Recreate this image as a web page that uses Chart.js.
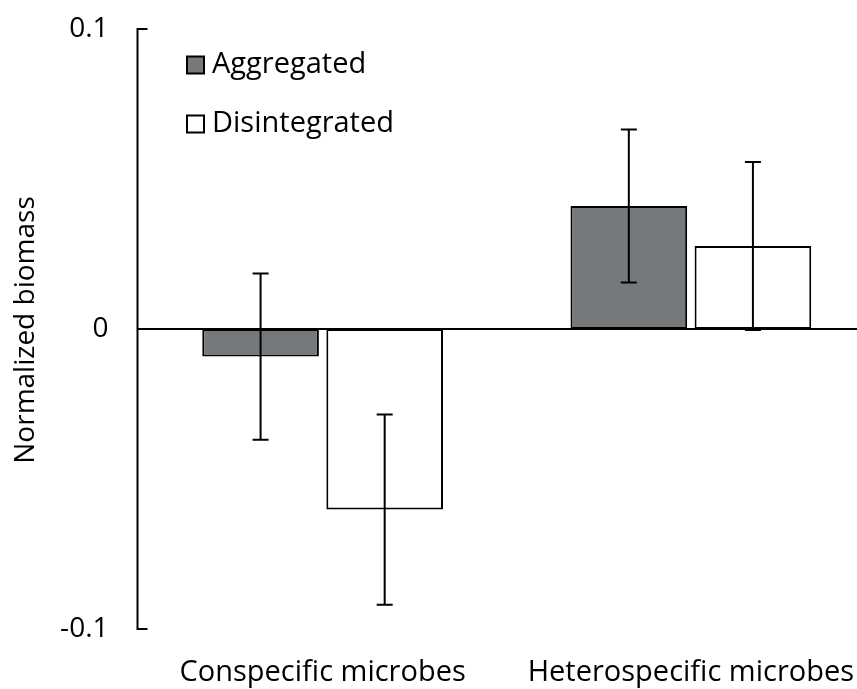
<!DOCTYPE html>
<html>
<head>
<meta charset="utf-8">
<script src="https://cdn.jsdelivr.net/npm/chart.js@4"></script>
<style>
html,body{margin:0;padding:0;background:#fff;overflow:hidden;width:857px;height:689px;}
canvas{display:block;}
</style>
</head>
<body>
<canvas id="c" width="880" height="689"></canvas>
<script>
const categories = ['Conspecific microbes', 'Heterospecific microbes'];
const seriesNames = ['Aggregated', 'Disintegrated'];
const aggregated = [-0.0092, 0.0410];
const disintegrated = [-0.0602, 0.0277];
const aggregatedErr = [0.0277, 0.0255];
const disintegratedErr = [0.0317, 0.0280];
const yTicks = [-0.1, 0, 0.1];
const yTickLabels = ['-0.1', '0', '0.1'];

const FONT = '"Open Sans", "Liberation Sans", sans-serif';

const errorBars = {
  id: 'errorBars',
  afterDatasetsDraw(chart) {
    const ctx = chart.ctx;
    const y = chart.scales.y;
    const errs = [aggregatedErr, disintegratedErr];
    ctx.save();
    ctx.strokeStyle = '#000';
    ctx.lineWidth = 2;
    chart.data.datasets.forEach((ds, di) => {
      const meta = chart.getDatasetMeta(di);
      meta.data.forEach((bar, i) => {
        const v = ds.data[i], e = errs[di][i];
        const x = bar.x;
        const yt = y.getPixelForValue(v + e);
        const yb = y.getPixelForValue(v - e);
        ctx.beginPath();
        ctx.moveTo(x, yt); ctx.lineTo(x, yb);
        ctx.moveTo(x - 8, yt); ctx.lineTo(x + 8, yt);
        ctx.moveTo(x - 8, yb); ctx.lineTo(x + 8, yb);
        ctx.stroke();
      });
    });
    ctx.restore();
  }
};

const axesAndLegend = {
  id: 'axesAndLegend',
  afterDatasetsDraw(chart) {
    const ctx = chart.ctx;
    const y = chart.scales.y;
    const a = chart.chartArea;
    const x0 = a.left - 1;
    ctx.save();
    ctx.strokeStyle = '#000';
    ctx.lineWidth = 2;
    const yz = y.getPixelForValue(0);
    ctx.beginPath();
    ctx.moveTo(x0, yz); ctx.lineTo(a.right + 10, yz);
    ctx.stroke();
    const yTop = y.getPixelForValue(yTicks[yTicks.length - 1]);
    const yBot = y.getPixelForValue(yTicks[0]);
    ctx.beginPath();
    ctx.moveTo(x0, yTop - 1); ctx.lineTo(x0, yBot + 1);
    ctx.stroke();
    yTicks.forEach(t => {
      const py = y.getPixelForValue(t);
      ctx.beginPath();
      ctx.moveTo(x0, py); ctx.lineTo(x0 + 10, py);
      ctx.stroke();
    });
    const colors = chart.data.datasets.map(d => d.backgroundColor);
    const rows = [65, 124];
    ctx.font = '29px ' + FONT;
    ctx.textBaseline = 'middle';
    ctx.textAlign = 'left';
    chart.data.datasets.forEach((ds, i) => {
      const cy = rows[i];
      ctx.fillStyle = colors[i];
      ctx.fillRect(187, cy - 8.5, 17, 17);
      ctx.strokeStyle = '#000';
      ctx.lineWidth = 2;
      ctx.strokeRect(187, cy - 8.5, 17, 17);
      ctx.fillStyle = '#000';
      ctx.fillText(ds.label, 212, cy);
    });
    ctx.restore();
  }
};

new Chart(document.getElementById('c'), {
  type: 'bar',
  data: {
    labels: categories,
    datasets: [
      { label: seriesNames[0], data: aggregated, backgroundColor: '#75797b', borderColor: '#000', borderWidth: 2, borderSkipped: false },
      { label: seriesNames[1], data: disintegrated, backgroundColor: '#ffffff', borderColor: '#000', borderWidth: 2, borderSkipped: false }
    ]
  },
  options: {
    responsive: false,
    animation: false,
    devicePixelRatio: 1,
    layout: { padding: { left: 0, right: 5, top: 29, bottom: 0 } },
    categoryPercentage: 0.674,
    barPercentage: 0.94,
    plugins: { legend: { display: false }, tooltip: { enabled: false } },
    scales: {
      x: {
        grid: { display: false },
        border: { display: false },
        ticks: { color: '#000', font: { family: FONT, size: 29 }, padding: 18, maxRotation: 0 },
        afterFit(s) { s.height = 60; s.paddingLeft = 0; s.paddingRight = 0; }
      },
      y: {
        min: -0.1, max: 0.1,
        grid: { display: false },
        border: { display: false },
        afterBuildTicks(s) { s.ticks = yTicks.map(v => ({ value: v })); },
        ticks: {
          color: '#000',
          font: { family: FONT, size: 28 },
          padding: 22,
          callback: (v) => yTickLabels[yTicks.indexOf(v)] ?? ''
        },
        title: { display: false },
        afterFit(s) { s.width = 138.5; s.paddingTop = 0; s.paddingBottom = 0; }
      }
    }
  },
  plugins: [errorBars, axesAndLegend, {
    id: 'yTitle',
    afterDraw(chart) {
      const ctx = chart.ctx;
      ctx.save();
      ctx.translate(26, 330);
      ctx.rotate(-Math.PI / 2);
      ctx.font = '28px ' + FONT;
      ctx.fillStyle = '#000';
      ctx.textAlign = 'center';
      ctx.textBaseline = 'middle';
      ctx.fillText('Normalized biomass', 0, 0);
      ctx.restore();
    }
  }]
});
</script>
</body>
</html>
